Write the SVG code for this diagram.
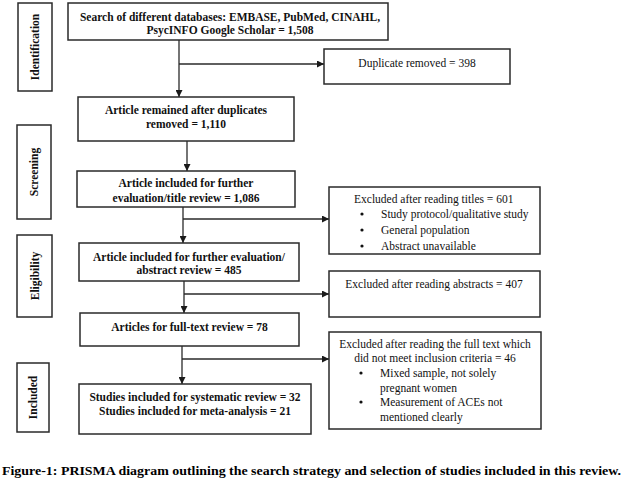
<svg xmlns="http://www.w3.org/2000/svg" width="624" height="485" viewBox="0 0 624 485">
<style>
.box{fill:#fff;stroke:#2a2a2a;stroke-width:1.5}
.ln{fill:none;stroke:#2a2a2a;stroke-width:1.3}
.b{font-family:"Liberation Serif","Times New Roman",serif;font-weight:bold;font-size:11.5px;fill:#111;text-anchor:middle}
.n{font-family:"Liberation Serif","Times New Roman",serif;font-size:11.5px;fill:#111}
.side{font-family:"Liberation Serif","Times New Roman",serif;font-weight:bold;font-size:11.5px;fill:#111;text-anchor:middle}
.cap{font-family:"Liberation Serif","Times New Roman",serif;font-weight:bold;font-size:11.8px;fill:#000}
</style>
<defs>
<marker id="ah" viewBox="0 0 10 10" refX="10" refY="5" markerWidth="7" markerHeight="7" markerUnits="userSpaceOnUse" orient="auto">
<path d="M0,0 L10,5 L0,10 z" fill="#1a1a1a"/>
</marker>
</defs>
<rect width="624" height="485" fill="#fff"/>

<g id="stage-identification">
<rect class="box" x="18" y="3" width="34" height="88"/>
<text class="side" transform="translate(39,47) rotate(-90)">Identification</text>
</g>
<g id="stage-screening">
<rect class="box" x="17" y="125" width="34" height="94"/>
<text class="side" transform="translate(38,172) rotate(-90)">Screening</text>
</g>
<g id="stage-eligibility">
<rect class="box" x="17" y="235" width="35" height="82"/>
<text class="side" transform="translate(39,276) rotate(-90)">Eligibility</text>
</g>
<g id="stage-included">
<rect class="box" x="17" y="363" width="32" height="69"/>
<text class="side" transform="translate(37,397.5) rotate(-90)">Included</text>
</g>

<g id="connectors">
<path class="ln" d="M179,40 V97" marker-end="url(#ah)"/>
<path class="ln" d="M179,64 H324" marker-end="url(#ah)"/>
<path class="ln" d="M187,141 V171" marker-end="url(#ah)"/>
<path class="ln" d="M183,207 V243" marker-end="url(#ah)"/>
<path class="ln" d="M183,219 H329" marker-end="url(#ah)"/>
<path class="ln" d="M184,281 V313" marker-end="url(#ah)"/>
<path class="ln" d="M184,294 H329" marker-end="url(#ah)"/>
<path class="ln" d="M182,346 V384" marker-end="url(#ah)"/>
<path class="ln" d="M182,359 H329" marker-end="url(#ah)"/>
</g>

<g id="search">
<rect class="box" x="68" y="3" width="320" height="37"/>
<text class="b" x="230" y="21">Search of different databases: EMBASE,  PubMed, CINAHL,</text>
<text class="b" x="230" y="34">PsycINFO Google Scholar = 1,508</text>
</g>
<g id="duplicates">
<rect class="box" x="324" y="49" width="186" height="35"/>
<text class="n" x="417" y="67" text-anchor="middle">Duplicate removed = 398</text>
</g>
<g id="remained">
<rect class="box" x="78" y="97" width="216" height="44"/>
<text class="b" x="186" y="114">Article remained after duplicates</text>
<text class="b" x="186" y="128">removed = 1,110</text>
</g>
<g id="title-review">
<rect class="box" x="77" y="171" width="218" height="36"/>
<text class="b" x="186" y="187">Article included  for further</text>
<text class="b" x="186" y="202">evaluation/title review = 1,086</text>
</g>
<g id="excluded-titles">
<rect class="box" x="329" y="187" width="211" height="67"/>
<text class="n" x="354" y="203">Excluded after reading titles = 601</text>
<circle cx="362" cy="214" r="1.6" fill="#111"/>
<text class="n" x="381" y="218">Study protocol/qualitative study</text>
<circle cx="362" cy="230" r="1.6" fill="#111"/>
<text class="n" x="381" y="234">General population</text>
<circle cx="362" cy="246" r="1.6" fill="#111"/>
<text class="n" x="381" y="250">Abstract unavailable</text>
</g>
<g id="abstract-review">
<rect class="box" x="79" y="243" width="220" height="38"/>
<text class="b" x="189" y="261">Article included  for further evaluation/</text>
<text class="b" x="189" y="274">abstract review = 485</text>
</g>
<g id="excluded-abstracts">
<rect class="box" x="329" y="271" width="211" height="46"/>
<text class="n" x="434" y="288" text-anchor="middle">Excluded after reading abstracts = 407</text>
</g>
<g id="full-text">
<rect class="box" x="80" y="313" width="219" height="33"/>
<text class="b" x="189.5" y="331">Articles for full-text review = 78</text>
</g>
<g id="excluded-full-text">
<rect class="box" x="329" y="332" width="212" height="97"/>
<text class="n" x="435" y="348" text-anchor="middle">Excluded after reading the full text which</text>
<text class="n" x="435" y="362" text-anchor="middle">did not meet inclusion criteria = 46</text>
<circle cx="361" cy="373" r="1.6" fill="#111"/>
<text class="n" x="380" y="377">Mixed sample, not solely</text>
<text class="n" x="380" y="392">pregnant women</text>
<circle cx="361" cy="402" r="1.6" fill="#111"/>
<text class="n" x="380" y="406">Measurement of ACEs not</text>
<text class="n" x="380" y="421">mentioned clearly</text>
</g>
<g id="included">
<rect class="box" x="79" y="384" width="232" height="50"/>
<text class="b" x="195" y="401">Studies included  for systematic review = 32</text>
<text class="b" x="195" y="415">Studies included  for meta-analysis = 21</text>
</g>
<text class="cap" x="2" y="475" textLength="619" lengthAdjust="spacingAndGlyphs">Figure-1: PRISMA diagram outlining the search strategy and selection of studies included in this review.</text>
</svg>
